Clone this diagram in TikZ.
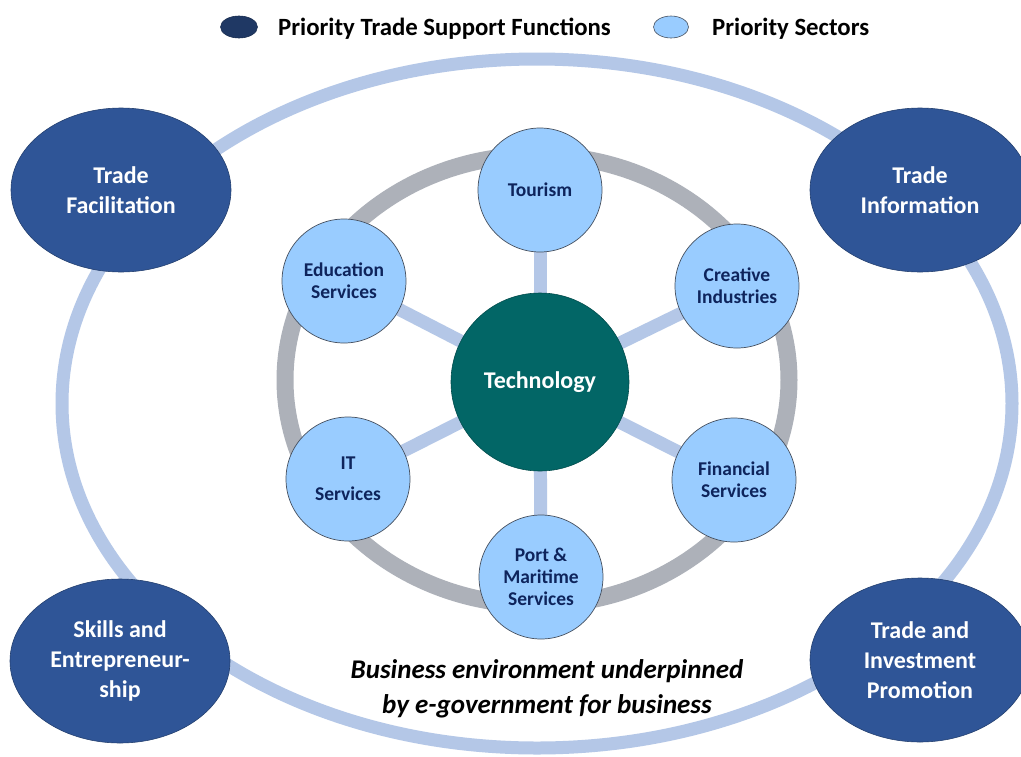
\documentclass[tikz,border=0pt]{standalone}
\usepackage{fontspec}
\setmainfont{Carlito}
\usetikzlibrary{shapes.geometric,backgrounds}
\definecolor{bandblue}{RGB}{180,199,231}
\definecolor{ringgray}{RGB}{173,177,185}
\definecolor{secfill}{RGB}{153,204,255}
\definecolor{secborder}{RGB}{70,80,95}
\definecolor{sectext}{RGB}{14,36,92}
\definecolor{funcfill}{RGB}{47,85,151}
\definecolor{funcborder}{RGB}{36,64,112}
\definecolor{techfill}{RGB}{2,102,102}
\definecolor{legdark}{RGB}{31,56,100}
\begin{document}
\begin{tikzpicture}[x=1pt,y=-1pt,
 func/.style={ellipse, fill=funcfill, draw=funcborder, line width=0.6pt, minimum width=220pt, minimum height=164pt, inner sep=0pt, align=center, text=white, font=\bfseries\fontsize{24}{30}\selectfont},
 sector/.style={circle, fill=secfill, draw=secborder, line width=0.7pt, minimum size=124pt, inner sep=0pt, align=center, text=sectext, font=\bfseries\fontsize{19.5}{22.3}\selectfont},
 tech/.style={circle, fill=techfill, draw=techfill!75!black, line width=0.6pt, minimum size=178pt, inner sep=0pt, text=white, font=\bfseries\fontsize{24}{28}\selectfont},
 spoke/.style={draw=bandblue, line width=13pt},
 legtext/.style={anchor=west, inner sep=0pt, font=\bfseries\fontsize{24.8}{28}\selectfont},
]
\useasboundingbox (0,0) rectangle (1021,756);
% nodes
\node[tech] (tech) at (540,382) {Technology};
\node[sector] (tour) at (540,190) {Tourism};
\node[sector] (edu) at (344,281) {Education\\Services};
\node[sector] (crea) at (737,286) {Creative\\Industries};
\node[sector] (it) at (348,479) {IT\\[9pt]Services};
\node[sector] (fin) at (734,480) {Financial\\Services};
\node[sector] (port) at (541,577) {Port \&\\Maritime\\Services};
\node[func] (tf) at (121,190) {Trade\\Facilitation};
\node[func] (ti) at (920,190) {Trade\\Information};
\node[func] (se) at (120,661) {Skills and\\Entrepreneur-\\ship};
\node[func] (tip) at (920,660) {Trade and\\Investment\\Promotion};
\node[font=\bfseries\itshape\fontsize{27}{35}\selectfont, align=center] (env) at (547,689) {Business environment underpinned\\by e-government for business};
% legend
\node[ellipse, fill=legdark, draw=legdark!80!black, line width=0.6pt, minimum width=37pt, minimum height=22pt, inner sep=0pt] (legA) at (239,27) {};
\node[legtext] (legAt) at (278,29) {Priority Trade Support Functions};
\node[ellipse, fill=secfill, draw=secborder, line width=0.6pt, minimum width=35pt, minimum height=22pt, inner sep=0pt] (legB) at (671,27) {};
\node[legtext] (legBt) at (712,29) {Priority Sectors};
% background
\begin{pgfonlayer}{background}
\fill[white] (0,0) rectangle (1021,756);
\draw[bandblue, line width=13pt] (537,403.5) ellipse [x radius=475pt, y radius=344.5pt];
\draw[ringgray, line width=17pt] (537,380) ellipse [x radius=252pt, y radius=225pt];
\foreach \n in {tour,edu,crea,it,fin,port} \draw[spoke] (tech.center) -- (\n.center);
\end{pgfonlayer}
\end{tikzpicture}
\end{document}
